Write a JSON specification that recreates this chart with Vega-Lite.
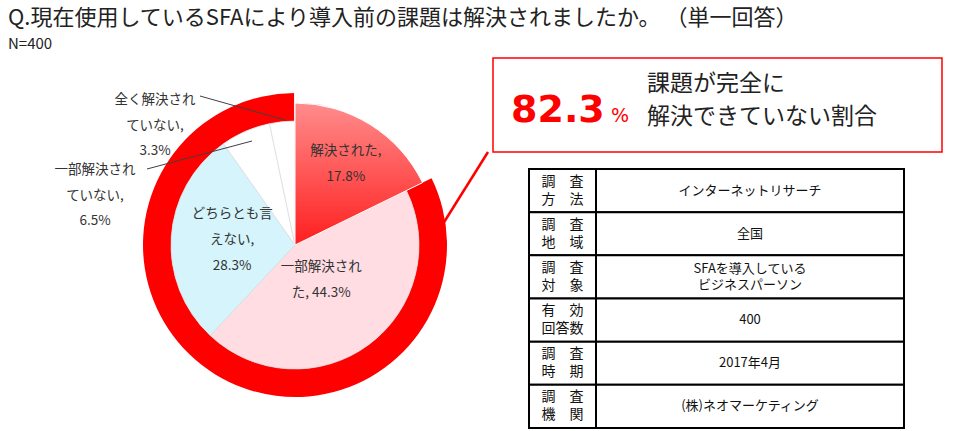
{
  "$schema": "https://vega.github.io/schema/vega-lite/v6.json",
  "width": 980,
  "height": 431,
  "padding": 0,
  "autosize": {"type": "fit", "contains": "padding"},
  "background": "white",
  "config": {
    "view": {"stroke": null},
    "axis": {"disable": true},
    "legend": {"disable": true},
    "text": {"font": "Noto Sans CJK JP"}
  },
  "datasets": {
    "pie": [
      {"answer": "解決された", "pct": 17.8, "label": "解決された,\n17.8%"},
      {"answer": "一部解決された", "pct": 44.3, "label": "一部解決され\nた, 44.3%"},
      {"answer": "どちらとも言えない", "pct": 28.3, "label": "どちらとも言\nえない,\n28.3%"},
      {"answer": "一部解決されていない", "pct": 6.5, "label": "一部解決され\nていない,\n6.5%"},
      {"answer": "全く解決されていない", "pct": 3.3, "label": "全く解決され\nていない,\n3.3%"}
    ],
    "ring": [
      {"part": "解決された", "pct": 17.8},
      {"part": "課題が完全に解決できていない", "pct": 82.3}
    ],
    "survey": [
      {"item": "調　査\n方　法", "value": "インターネットリサーチ"},
      {"item": "調　査\n地　域", "value": "全国"},
      {"item": "調　査\n対　象", "value": "SFAを導入している\nビジネスパーソン"},
      {"item": "有　効\n回答数", "value": "400"},
      {"item": "調　査\n時　期", "value": "2017年4月"},
      {"item": "調　査\n機　関", "value": "(株)ネオマーケティング"}
    ]
  },
  "resolve": {"scale": {"y": "independent"}},
  "layer": [
    {
      "layer": [
        {
          "data": {"values": [{}]},
          "mark": {"type": "text", "text": "Q.現在使用しているSFAにより導入前の課題は解決されましたか。 （単一回答）", "align": "left", "baseline": "middle", "fontSize": 22, "color": "#222222"},
          "encoding": {
            "x": {"datum": 8, "type": "quantitative", "scale": {"domain": [0, 980], "nice": false, "zero": false}},
            "y": {"datum": 18, "type": "quantitative", "scale": {"domain": [0, 431], "nice": false, "zero": false, "reverse": true}}
          }
        },
        {
          "data": {"values": [{}]},
          "mark": {"type": "text", "text": "N=400", "align": "left", "baseline": "middle", "fontSize": 15, "color": "#222222"},
          "encoding": {
            "x": {"datum": 8, "type": "quantitative"},
            "y": {"datum": 44, "type": "quantitative"}
          }
        },
        {
          "data": {"name": "ring"},
          "transform": [{"window": [{"op": "row_number", "as": "idx"}]}],
          "mark": {"type": "arc", "radius": 152, "radius2": 124},
          "encoding": {
            "theta": {"field": "pct", "type": "quantitative", "stack": true},
            "order": {"field": "idx", "type": "quantitative"},
            "detail": {"field": "part"},
            "x": {"datum": 295, "type": "quantitative"},
            "y": {"datum": 245, "type": "quantitative"},
            "fill": {"condition": {"test": "datum.part === '解決された'", "value": "transparent"}, "value": "#ff0000"}
          }
        },
        {
          "data": {"name": "pie"},
          "transform": [{"window": [{"op": "row_number", "as": "idx"}]}],
          "mark": {"type": "arc", "radius": 124, "stroke": "#d9d9d9", "strokeWidth": 0.7},
          "encoding": {
            "theta": {"field": "pct", "type": "quantitative", "stack": true},
            "order": {"field": "idx", "type": "quantitative"},
            "color": {"field": "answer", "type": "nominal", "scale": {"domain": ["解決された", "一部解決された", "どちらとも言えない", "一部解決されていない", "全く解決されていない"], "range": ["#ff6a6a", "#ffdde3", "#d5f4fb", "#ffffff", "#ffffff"]}},
            "x": {"datum": 295, "type": "quantitative"},
            "y": {"datum": 245, "type": "quantitative"}
          }
        },
        {
          "data": {"name": "pie"},
          "transform": [{"window": [{"op": "row_number", "as": "idx"}]}, {"filter": "datum.answer === '解決された'"}],
          "mark": {"type": "arc", "radius": 142, "stroke": "#ffffff", "strokeWidth": 1, "fill": {"gradient": "linear", "x1": 0, "y1": 0, "x2": 0, "y2": 1, "stops": [{"offset": 0, "color": "#ff8c8c"}, {"offset": 1, "color": "#ff1f1f"}]}},
          "encoding": {
            "theta": {"field": "pct", "type": "quantitative", "stack": true},
            "order": {"field": "idx", "type": "quantitative"},
            "x": {"datum": 295, "type": "quantitative"},
            "y": {"datum": 245, "type": "quantitative"}
          }
        },
        {
          "data": {"name": "pie"},
          "transform": [{"window": [{"op": "row_number", "as": "idx"}]}],
          "mark": {"type": "text", "radius": 96, "dy": -13, "align": "center", "baseline": "middle", "fontSize": 13.5, "lineBreak": "\n", "lineHeight": 26, "color": "#333333"},
          "encoding": {
            "theta": {"field": "pct", "type": "quantitative", "stack": true},
            "order": {"field": "idx", "type": "quantitative"},
            "detail": {"field": "answer"},
            "x": {"datum": 295, "type": "quantitative"},
            "y": {"datum": 245, "type": "quantitative"},
            "text": {"condition": {"test": "datum.answer === '解決された'", "field": "label"}, "value": ""}
          }
        },
        {
          "data": {"name": "pie"},
          "transform": [{"window": [{"op": "row_number", "as": "idx"}]}],
          "mark": {"type": "text", "radius": 44, "dy": -13, "align": "center", "baseline": "middle", "fontSize": 13.5, "lineBreak": "\n", "lineHeight": 26, "color": "#333333"},
          "encoding": {
            "theta": {"field": "pct", "type": "quantitative", "stack": true},
            "order": {"field": "idx", "type": "quantitative"},
            "detail": {"field": "answer"},
            "x": {"datum": 295, "type": "quantitative"},
            "y": {"datum": 245, "type": "quantitative"},
            "text": {"condition": {"test": "datum.answer === '一部解決された'", "field": "label"}, "value": ""}
          }
        },
        {
          "data": {"name": "pie"},
          "transform": [{"window": [{"op": "row_number", "as": "idx"}]}],
          "mark": {"type": "text", "radius": 63, "dy": -27, "align": "center", "baseline": "middle", "fontSize": 13.5, "lineBreak": "\n", "lineHeight": 26, "color": "#333333"},
          "encoding": {
            "theta": {"field": "pct", "type": "quantitative", "stack": true},
            "order": {"field": "idx", "type": "quantitative"},
            "detail": {"field": "answer"},
            "x": {"datum": 295, "type": "quantitative"},
            "y": {"datum": 245, "type": "quantitative"},
            "text": {"condition": {"test": "datum.answer === 'どちらとも言えない'", "field": "label"}, "value": ""}
          }
        },
        {
          "data": {"name": "pie"},
          "transform": [{"filter": "datum.answer === '全く解決されていない'"}],
          "mark": {"type": "text", "align": "center", "baseline": "middle", "fontSize": 13.5, "lineBreak": "\n", "lineHeight": 25.5, "color": "#333333"},
          "encoding": {
            "x": {"datum": 155, "type": "quantitative"},
            "y": {"datum": 100, "type": "quantitative"},
            "text": {"field": "label"}
          }
        },
        {
          "data": {"name": "pie"},
          "transform": [{"filter": "datum.answer === '一部解決されていない'"}],
          "mark": {"type": "text", "align": "center", "baseline": "middle", "fontSize": 13.5, "lineBreak": "\n", "lineHeight": 25.5, "color": "#333333"},
          "encoding": {
            "x": {"datum": 95, "type": "quantitative"},
            "y": {"datum": 170, "type": "quantitative"},
            "text": {"field": "label"}
          }
        },
        {
          "data": {"values": [{}]},
          "mark": {"type": "rule", "color": "#404040", "strokeWidth": 1},
          "encoding": {
            "x": {"datum": 200, "type": "quantitative"},
            "y": {"datum": 96, "type": "quantitative"},
            "x2": {"datum": 285},
            "y2": {"datum": 120}
          }
        },
        {
          "data": {"values": [{}]},
          "mark": {"type": "rule", "color": "#404040", "strokeWidth": 1},
          "encoding": {
            "x": {"datum": 147, "type": "quantitative"},
            "y": {"datum": 169, "type": "quantitative"},
            "x2": {"datum": 252},
            "y2": {"datum": 141}
          }
        },
        {
          "data": {"values": [{}]},
          "mark": {"type": "rule", "color": "#ff0000", "strokeWidth": 2.5},
          "encoding": {
            "x": {"datum": 441, "type": "quantitative"},
            "y": {"datum": 227, "type": "quantitative"},
            "x2": {"datum": 488},
            "y2": {"datum": 152}
          }
        },
        {
          "data": {"values": [{}]},
          "mark": {"type": "rect", "fill": "#ffffff", "stroke": "#ff0000", "strokeWidth": 1.5},
          "encoding": {
            "x": {"datum": 493, "type": "quantitative"},
            "x2": {"datum": 942},
            "y": {"datum": 58, "type": "quantitative"},
            "y2": {"datum": 152}
          }
        },
        {
          "data": {"values": [{}]},
          "mark": {"type": "text", "text": "82.3", "font": "DejaVu Sans", "fontWeight": "bold", "fontSize": 38, "color": "#ff0000", "align": "left", "baseline": "alphabetic"},
          "encoding": {
            "x": {"datum": 511, "type": "quantitative"},
            "y": {"datum": 122, "type": "quantitative"}
          }
        },
        {
          "data": {"values": [{}]},
          "mark": {"type": "text", "text": "%", "font": "DejaVu Sans", "fontSize": 19, "color": "#ff0000", "align": "left", "baseline": "alphabetic"},
          "encoding": {
            "x": {"datum": 611, "type": "quantitative"},
            "y": {"datum": 122, "type": "quantitative"}
          }
        },
        {
          "data": {"values": [{}]},
          "mark": {"type": "text", "text": "課題が完全に\n解決できていない割合", "lineBreak": "\n", "lineHeight": 33, "fontSize": 23, "color": "#222222", "align": "left", "baseline": "middle"},
          "encoding": {
            "x": {"datum": 647, "type": "quantitative"},
            "y": {"datum": 84, "type": "quantitative"}
          }
        }
      ]
    },
    {
      "data": {"name": "survey"},
      "encoding": {
        "y": {"field": "item", "type": "nominal", "sort": null, "scale": {"type": "band", "range": [169, 428], "paddingInner": 0, "paddingOuter": 0}}
      },
      "layer": [
        {
          "mark": {"type": "rect", "fill": "#ffffff", "stroke": "#000000", "strokeWidth": 2},
          "encoding": {
            "x": {"datum": 529, "type": "quantitative"},
            "x2": {"datum": 596}
          }
        },
        {
          "mark": {"type": "rect", "fill": "#ffffff", "stroke": "#000000", "strokeWidth": 2},
          "encoding": {
            "x": {"datum": 596, "type": "quantitative"},
            "x2": {"datum": 904}
          }
        },
        {
          "mark": {"type": "text", "fontSize": 14, "dy": -9, "lineBreak": "\n", "lineHeight": 18, "align": "center", "baseline": "middle", "color": "#111111"},
          "encoding": {
            "x": {"datum": 562.5, "type": "quantitative"},
            "text": {"field": "item"}
          }
        },
        {
          "transform": [{"filter": "indexof(datum.value, '\\n') < 0"}],
          "mark": {"type": "text", "fontSize": 13, "align": "center", "baseline": "middle", "color": "#111111"},
          "encoding": {
            "x": {"datum": 750, "type": "quantitative"},
            "text": {"field": "value"}
          }
        },
        {
          "transform": [{"filter": "indexof(datum.value, '\\n') >= 0"}],
          "mark": {"type": "text", "fontSize": 13, "dy": -8, "lineBreak": "\n", "lineHeight": 16, "align": "center", "baseline": "middle", "color": "#111111"},
          "encoding": {
            "x": {"datum": 750, "type": "quantitative"},
            "text": {"field": "value"}
          }
        }
      ]
    }
  ]
}
